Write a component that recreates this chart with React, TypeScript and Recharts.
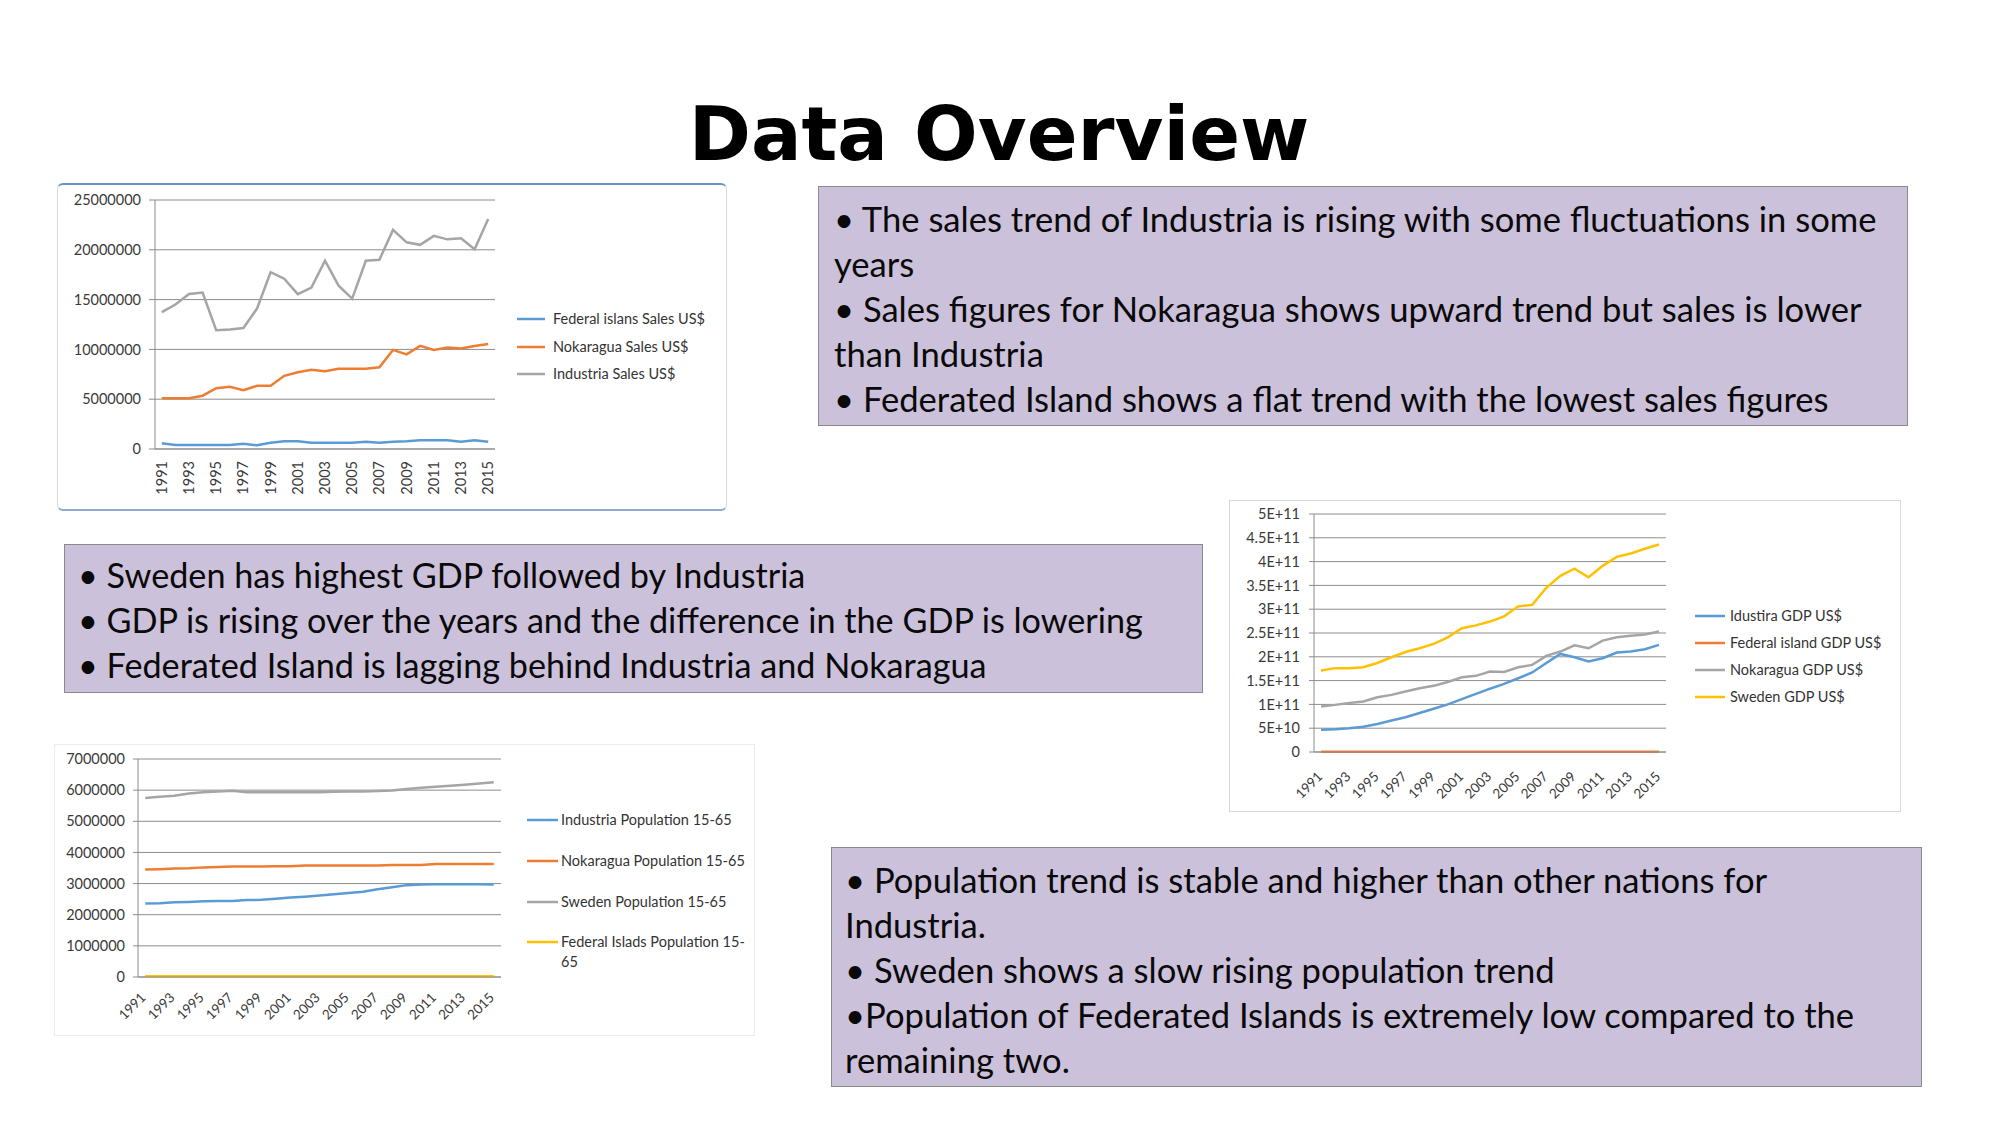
import React from "react";
import { LineChart, Line, XAxis, YAxis, CartesianGrid } from "recharts";

const YEARS = [
  "1991", "1992", "1993", "1994", "1995", "1996", "1997", "1998", "1999", "2000",
  "2001", "2002", "2003", "2004", "2005", "2006", "2007", "2008", "2009", "2010",
  "2011", "2012", "2013", "2014", "2015",
];

// Sales (US$)
const FEDERAL_SALES = [
  570000, 400000, 400000, 400000, 400000, 400000, 530000, 370000, 630000, 770000,
  770000, 630000, 630000, 630000, 630000, 730000, 630000, 730000, 770000, 870000,
  870000, 870000, 730000, 870000, 730000,
];
const NOKARAGUA_SALES = [
  5100000, 5100000, 5100000, 5350000, 6100000, 6250000, 5900000, 6350000, 6350000, 7350000,
  7700000, 7950000, 7800000, 8050000, 8050000, 8050000, 8200000, 9950000, 9500000, 10350000,
  9950000, 10200000, 10100000, 10350000, 10550000,
];
const INDUSTRIA_SALES = [
  13740000, 14500000, 15570000, 15700000, 11930000, 12000000, 12150000, 14100000, 17750000, 17100000,
  15550000, 16200000, 18900000, 16400000, 15100000, 18900000, 19000000, 22000000, 20750000, 20500000,
  21400000, 21050000, 21150000, 20050000, 23100000,
];
const SALES_TICKS = [0, 5000000, 10000000, 15000000, 20000000, 25000000];

// GDP (US$)
const IDUSTIRA_GDP = [
  4.7e10, 4.8e10, 5.0e10, 5.3e10, 5.9e10, 6.6e10, 7.3e10, 8.2e10, 9.1e10, 1.0e11,
  1.11e11, 1.22e11, 1.33e11, 1.43e11, 1.55e11, 1.67e11, 1.87e11, 2.06e11, 1.99e11, 1.9e11,
  1.97e11, 2.09e11, 2.11e11, 2.16e11, 2.25e11,
];
const FEDERAL_GDP = [
  3e8, 3e8, 3e8, 3e8, 3e8, 3e8, 3e8, 3e8, 3e8, 4e8,
  4e8, 4e8, 4e8, 4e8, 4e8, 4e8, 5e8, 5e8, 5e8, 5e8,
  5e8, 5e8, 5e8, 5e8, 5e8,
];
const NOKARAGUA_GDP = [
  9.58e10, 9.9e10, 1.03e11, 1.06e11, 1.15e11, 1.2e11, 1.27e11, 1.34e11, 1.39e11, 1.47e11,
  1.57e11, 1.6e11, 1.69e11, 1.68e11, 1.78e11, 1.83e11, 2.02e11, 2.11e11, 2.24e11, 2.18e11,
  2.34e11, 2.41e11, 2.44e11, 2.47e11, 2.53e11,
];
const SWEDEN_GDP = [
  1.713e11, 1.762e11, 1.76e11, 1.78e11, 1.87e11, 1.99e11, 2.1e11, 2.18e11, 2.27e11, 2.41e11,
  2.6e11, 2.66e11, 2.74e11, 2.85e11, 3.06e11, 3.09e11, 3.45e11, 3.7e11, 3.85e11, 3.67e11,
  3.91e11, 4.1e11, 4.17e11, 4.27e11, 4.36e11,
];
const GDP_TICKS = [0, 5e10, 1e11, 1.5e11, 2e11, 2.5e11, 3e11, 3.5e11, 4e11, 4.5e11, 5e11];

// Population 15-65
const INDUSTRIA_POP = [
  2360000, 2370000, 2400000, 2410000, 2430000, 2440000, 2440000, 2470000, 2480000, 2510000,
  2550000, 2580000, 2620000, 2660000, 2700000, 2740000, 2820000, 2880000, 2950000, 2970000,
  2980000, 2980000, 2980000, 2980000, 2970000,
];
const NOKARAGUA_POP = [
  3450000, 3460000, 3480000, 3490000, 3520000, 3530000, 3550000, 3550000, 3550000, 3560000,
  3560000, 3580000, 3580000, 3580000, 3580000, 3580000, 3580000, 3600000, 3600000, 3600000,
  3630000, 3630000, 3630000, 3630000, 3630000,
];
const SWEDEN_POP = [
  5750000, 5790000, 5820000, 5890000, 5930000, 5960000, 5980000, 5930000, 5930000, 5930000,
  5930000, 5930000, 5930000, 5950000, 5960000, 5960000, 5970000, 5990000, 6035000, 6080000,
  6110000, 6140000, 6170000, 6210000, 6250000,
];
const FEDERAL_POP = [
  21000, 21000, 21500, 21500, 22000, 22000, 22500, 22500, 23000, 23000,
  23500, 23500, 24000, 24000, 24500, 24500, 25000, 25000, 25500, 25500,
  26000, 26000, 26500, 26500, 27000,
];
const POP_TICKS = [0, 1000000, 2000000, 3000000, 4000000, 5000000, 6000000, 7000000];

const SALES_NOTES = [
  "• The sales trend of Industria is rising with some fluctuations in some",
  "years",
  "• Sales figures for Nokaragua shows upward trend but sales is lower",
  "than Industria",
  "• Federated Island shows a flat trend with the lowest sales figures",
];
const GDP_NOTES = [
  "• Sweden has highest GDP followed by Industria",
  "• GDP is rising over the years and the difference in the GDP is lowering",
  "• Federated Island is lagging behind Industria and Nokaragua",
];
const POP_NOTES = [
  "• Population trend is stable and higher than other nations for",
  "Industria.",
  "• Sweden shows a slow rising population trend",
  "•Population of Federated Islands is extremely low compared to the",
  "remaining two.",
];

const BLUE = "#5b9bd5";
const ORANGE = "#ed7d31";
const GRAY = "#a5a5a5";
const GOLD = "#ffc000";
const GRID = "#8c8c8c";
const LABEL = "#3a3a3a";
const FONT = "Lato, 'Noto Sans', sans-serif";
const BOX_FILL = "#ccc1da";
const SMALL = 14.5;

type Series = { key: string; name: string; color: string; values: number[] };

type ChartSpec = {
  left: number;
  top: number;
  width: number;
  height: number;
  plotLeft: number;
  plotTop: number;
  plotRight: number;
  plotBottom: number;
  series: Series[];
  yTicks: number[];
  yFormat: (v: number) => string;
  yTickSize: number;
  yTickMargin: number;
  xTick: (props: any) => React.ReactElement;
  legendIcon: [number, number];
  legendText: number;
  legendRows: number[];
  legendWidth: number;
  card: React.CSSProperties;
};

const plainNumber = (v: number) => String(v);
const excelSci = (v: number) => (v === 0 ? "0" : v.toExponential().toUpperCase());

function VerticalTick({ x, y, payload }: any) {
  return (
    <g transform={`translate(${x},${y + 12})`}>
      <text transform="rotate(-90)" textAnchor="end" dy="0.35em" fontSize={SMALL} fontFamily={FONT} fill={LABEL}>
        {payload.value}
      </text>
    </g>
  );
}

const diagonalTick = (ox: number, oy: number) =>
  function DiagonalTick({ x, y, payload }: any) {
    return (
      <g transform={`translate(${x + ox},${y + oy})`}>
        <text transform="rotate(-45)" textAnchor="end" dy="0.35em" fontSize={13.5} fontFamily={FONT} fill={LABEL}>
          {payload.value}
        </text>
      </g>
    );
  };

function TrendChart({ spec }: { spec: ChartSpec }) {
  const rows = YEARS.map((year, i) => {
    const row: Record<string, any> = { year };
    spec.series.forEach((s) => {
      row[s.key] = s.values[i];
    });
    return row;
  });
  const plotWidth = spec.plotRight - spec.plotLeft;
  const pad = plotWidth / (YEARS.length * 2);
  const boundaries = YEARS.map((_, i) => i).concat(YEARS.length);
  const yMax = spec.yTicks[spec.yTicks.length - 1];

  return (
    <>
      <div
        style={{
          position: "absolute",
          left: spec.left,
          top: spec.top,
          width: spec.width,
          height: spec.height,
          boxSizing: "border-box",
          background: "#fff",
          ...spec.card,
        }}
      />
      <div style={{ position: "absolute", left: spec.left, top: spec.top, width: spec.width, height: spec.height }}>
        <LineChart
          width={spec.width}
          height={spec.height}
          data={rows}
          margin={{
            top: spec.plotTop - spec.top,
            right: spec.left + spec.width - spec.plotRight,
            bottom: 0,
            left: 0,
          }}
        >
          <CartesianGrid vertical={false} stroke={GRID} />
          <XAxis
            xAxisId="bounds"
            type="number"
            domain={[0, YEARS.length]}
            ticks={boundaries}
            allowDataOverflow
            height={0}
            axisLine={false}
            tickLine={{ stroke: GRID }}
            tickSize={5}
            tick={() => <g />}
          />
          <XAxis
            dataKey="year"
            interval={1}
            padding={{ left: pad, right: pad }}
            height={spec.top + spec.height - spec.plotBottom}
            axisLine={{ stroke: GRID }}
            tickLine={false}
            tickSize={0}
            tickMargin={0}
            tick={spec.xTick}
          />
          <YAxis
            width={spec.plotLeft - spec.left}
            domain={[0, yMax]}
            ticks={spec.yTicks}
            interval={0}
            tickFormatter={spec.yFormat}
            axisLine={{ stroke: GRID }}
            tickLine={{ stroke: GRID }}
            tickSize={spec.yTickSize}
            tickMargin={spec.yTickMargin}
            tick={{ fill: LABEL, fontSize: SMALL, fontFamily: FONT }}
          />
          {spec.series.map((s) => (
            <Line
              key={s.key}
              type="linear"
              dataKey={s.key}
              name={s.name}
              stroke={s.color}
              strokeWidth={2.5}
              dot={false}
              isAnimationActive={false}
            />
          ))}
        </LineChart>
      </div>
      {spec.series.map((s, i) => (
        <div
          key={s.key}
          style={{
            position: "absolute",
            left: spec.legendIcon[0],
            top: spec.legendRows[i] - 10,
            display: "flex",
            alignItems: "flex-start",
          }}
        >
          <svg width={spec.legendIcon[1] - spec.legendIcon[0]} height={20} style={{ display: "block" }}>
            <line x1={0} x2={spec.legendIcon[1] - spec.legendIcon[0]} y1={10} y2={10} stroke={s.color} strokeWidth={2.5} />
          </svg>
          <div
            style={{
              marginLeft: spec.legendText - spec.legendIcon[1],
              width: spec.legendWidth,
              font: `${SMALL}px/20px ${FONT}`,
              color: "#333",
            }}
          >
            {s.name}
          </div>
        </div>
      ))}
    </>
  );
}

const SALES_CHART: ChartSpec = {
  left: 57,
  top: 183,
  width: 670,
  height: 328,
  plotLeft: 155,
  plotTop: 200,
  plotRight: 495,
  plotBottom: 449,
  series: [
    { key: "federal", name: "Federal islans Sales US$", color: BLUE, values: FEDERAL_SALES },
    { key: "nokaragua", name: "Nokaragua Sales US$", color: ORANGE, values: NOKARAGUA_SALES },
    { key: "industria", name: "Industria Sales US$", color: GRAY, values: INDUSTRIA_SALES },
  ],
  yTicks: SALES_TICKS,
  yFormat: plainNumber,
  yTickSize: 6,
  yTickMargin: 8,
  xTick: VerticalTick,
  legendIcon: [517, 545],
  legendText: 553,
  legendRows: [319, 347, 374],
  legendWidth: 175,
  card: {
    border: "1px solid #d3dae4",
    borderTop: "2px solid #6b93c2",
    borderBottom: "2px solid #8eaad0",
    borderRadius: 6,
  },
};

const GDP_CHART: ChartSpec = {
  left: 1229,
  top: 500,
  width: 672,
  height: 312,
  plotLeft: 1314,
  plotTop: 514,
  plotRight: 1666,
  plotBottom: 752,
  series: [
    { key: "idustira", name: "Idustira GDP US$", color: BLUE, values: IDUSTIRA_GDP },
    { key: "federal", name: "Federal island GDP US$", color: ORANGE, values: FEDERAL_GDP },
    { key: "nokaragua", name: "Nokaragua GDP US$", color: GRAY, values: NOKARAGUA_GDP },
    { key: "sweden", name: "Sweden GDP US$", color: GOLD, values: SWEDEN_GDP },
  ],
  yTicks: GDP_TICKS,
  yFormat: excelSci,
  yTickSize: 5,
  yTickMargin: 9,
  xTick: diagonalTick(-1, 22),
  legendIcon: [1695, 1725],
  legendText: 1730,
  legendRows: [616, 643, 670, 697],
  legendWidth: 170,
  card: { border: "1px solid #d9d9d9" },
};

const POP_CHART: ChartSpec = {
  left: 54,
  top: 744,
  width: 701,
  height: 292,
  plotLeft: 138,
  plotTop: 759,
  plotRight: 501,
  plotBottom: 977,
  series: [
    { key: "industria", name: "Industria Population 15-65", color: BLUE, values: INDUSTRIA_POP },
    { key: "nokaragua", name: "Nokaragua Population 15-65", color: ORANGE, values: NOKARAGUA_POP },
    { key: "sweden", name: "Sweden Population 15-65", color: GRAY, values: SWEDEN_POP },
    { key: "federal", name: "Federal Islads Population 15-65", color: GOLD, values: FEDERAL_POP },
  ],
  yTicks: POP_TICKS,
  yFormat: plainNumber,
  yTickSize: 5,
  yTickMargin: 8,
  xTick: diagonalTick(-2, 18),
  legendIcon: [527, 558],
  legendText: 561,
  legendRows: [820, 861, 902, 942],
  legendWidth: 188,
  card: { border: "1px solid #ececec" },
};

const LINE_GAP = 45;

function NoteBox(props: {
  left: number;
  top: number;
  width: number;
  height: number;
  textLeft: number;
  baseline: number;
  size: number;
  lines: string[];
}) {
  const lineTop = props.baseline - (LINE_GAP / 2 + 0.387 * props.size);
  return (
    <>
      <div
        style={{
          position: "absolute",
          left: props.left,
          top: props.top,
          width: props.width,
          height: props.height,
          boxSizing: "border-box",
          background: BOX_FILL,
          border: "1.5px solid #8a8a8a",
        }}
      />
      {props.lines.map((line, i) => (
        <div
          key={i}
          style={{
            position: "absolute",
            left: props.textLeft,
            top: lineTop + i * LINE_GAP,
            whiteSpace: "nowrap",
            font: `${props.size}px/${LINE_GAP}px ${FONT}`,
            color: "#0a0a0a",
          }}
        >
          {line}
        </div>
      ))}
    </>
  );
}

export default function App() {
  return (
    <div style={{ position: "absolute", left: 0, top: 0, width: 2001, height: 1125, background: "#fff", overflow: "hidden" }}>
      <div
        style={{
          position: "absolute",
          left: 0,
          top: 96.5,
          width: 1998,
          textAlign: "center",
          font: "bold 75px/75px 'DejaVu Sans', sans-serif",
          color: "#000",
        }}
      >
        Data Overview
      </div>

      <TrendChart spec={SALES_CHART} />
      <TrendChart spec={GDP_CHART} />
      <TrendChart spec={POP_CHART} />

      <NoteBox left={818} top={186} width={1090} height={240} textLeft={834} baseline={232} size={34.6} lines={SALES_NOTES} />
      <NoteBox left={64} top={544} width={1139} height={149} textLeft={78} baseline={588} size={34.2} lines={GDP_NOTES} />
      <NoteBox left={831} top={847} width={1091} height={240} textLeft={845} baseline={893} size={34.6} lines={POP_NOTES} />
    </div>
  );
}
